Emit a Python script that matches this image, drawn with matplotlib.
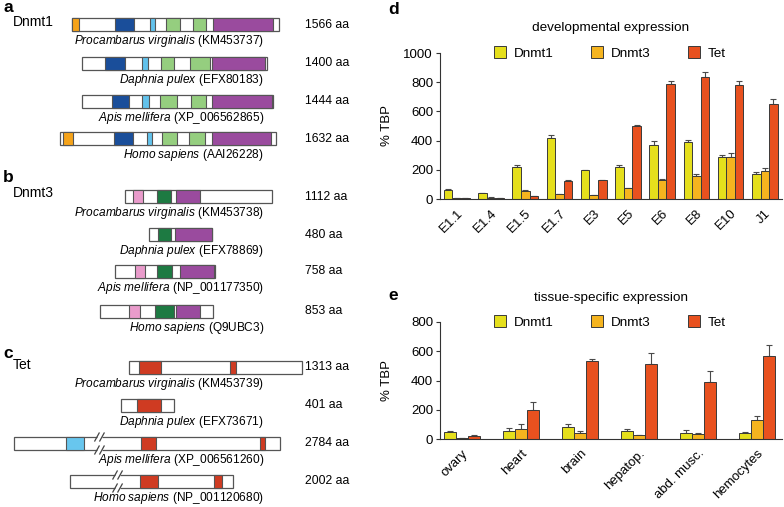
import numpy as np
import matplotlib.pyplot as plt
from matplotlib.patches import Rectangle

plt.rcParams['font.family'] = ['Liberation Sans', 'DejaVu Sans']
plt.rcParams['mathtext.fontset'] = 'custom'
plt.rcParams['mathtext.rm'] = 'Liberation Sans'
plt.rcParams['mathtext.it'] = 'Liberation Sans:italic'

# ---- domain architecture data (aa positions relative to protein start)
species = ['Procambarus virginalis', 'Daphnia pulex', 'Apis mellifera', 'Homo sapiens']
dnmt1_acc = ['KM453737', 'EFX80183', 'XP_006562865', 'AAI26228']
dnmt1_len = [1566, 1400, 1444, 1632]
dnmt1_dom = [
    [(0, 53, 'orange'), (326, 470, 'blue'), (590, 628, 'lblue'), (712, 818, 'lgreen'),
     (916, 1014, 'lgreen'), (1067, 1522, 'purple')],
    [(174, 326, 'blue'), (454, 500, 'lblue'), (598, 696, 'lgreen'), (818, 969, 'lgreen'),
     (984, 1385, 'purple')],
    [(227, 356, 'blue'), (454, 507, 'lblue'), (590, 719, 'lgreen'), (825, 939, 'lgreen'),
     (984, 1438, 'purple')],
    [(23, 98, 'orange'), (409, 553, 'blue'), (659, 696, 'lblue'), (772, 886, 'lgreen'),
     (977, 1098, 'lgreen'), (1151, 1597, 'purple')],
]
dnmt3_acc = ['KM453738', 'EFX78869', 'NP_001177350', 'Q9UBC3']
dnmt3_len = [1112, 480, 758, 853]
dnmt3_dom = [
    [(61, 136, 'pink'), (242, 348, 'dgreen'), (386, 568, 'purple')],
    [(68, 167, 'dgreen'), (197, 477, 'purple')],
    [(151, 227, 'pink'), (318, 431, 'dgreen'), (492, 749, 'purple')],
    [(220, 303, 'pink'), (416, 560, 'dgreen'), (575, 757, 'purple')],
]
tet_acc = ['KM453739', 'EFX73671', 'XP_006561260', 'NP_001120680']
tet_len = [1313, 401, 2784, 2002]
tet_drawn = [1313, 401, 2014, 1234]       # drawn length after the scale break
tet_break = [None, None, 628, 341]
tet_dom = [
    [(76, 242, 'red'), (765, 810, 'red')],
    [(121, 303, 'red')],
    [(394, 530, 'lblue2'), (961, 1075, 'red'), (1862, 1900, 'red')],
    [(530, 666, 'red'), (1090, 1151, 'red')],
]

# ---- d: developmental expression (% TBP)
stages = ['E1.1', 'E1.4', 'E1.5', 'E1.7', 'E3', 'E5', 'E6', 'E8', 'E10', 'J1']
dev_dnmt1 = [62, 39, 217, 416, 199, 222, 371, 387, 288, 172]
dev_dnmt1_err = [8, 3, 15, 22, 3, 14, 23, 18, 14, 16]
dev_dnmt3 = [8, 10, 57, 34, 25, 73, 128, 160, 290, 190]
dev_dnmt3_err = [2, 2, 4, 3, 2, 4, 9, 9, 23, 21]
dev_tet = [4, 4, 20, 124, 128, 497, 790, 835, 783, 648]
dev_tet_err = [1, 1, 2, 4, 4, 11, 20, 32, 27, 37]

# ---- e: tissue-specific expression (% TBP)
tissues = ['ovary', 'heart', 'brain', 'hepatop.', 'abd. musc.', 'hemocytes']
tis_dnmt1 = [50, 55, 85, 53, 39, 43]
tis_dnmt1_err = [7, 18, 18, 16, 21, 7]
tis_dnmt3 = [6, 71, 43, 25, 32, 130]
tis_dnmt3_err = [2, 30, 14, 5, 7, 30]
tis_tet = [20, 199, 530, 512, 393, 567]
tis_tet_err = [5, 57, 16, 73, 69, 78]

dom_colors = {'orange': '#F5A31A', 'blue': '#1A4E9A', 'lblue': '#62C2EC', 'lblue2': '#68C6EE',
              'lgreen': '#95CE7F', 'purple': '#9A4B9E', 'pink': '#E99BCB',
              'dgreen': '#1D7A42', 'red': '#CF3B22'}
bar_colors = ['#E5DF1C', '#F5B41F', '#E8511F']
genes = ['Dnmt1', 'Dnmt3', 'Tet']

W, H = 784, 507
fig = plt.figure(figsize=(W / 100, H / 100), dpi=100)

# ---------- left: domain diagrams (x in px, via aa scale)
AA_PER_PX = 7.57
axl = fig.add_axes([0, 0, 400 / W, 1])
axl.set_xlim(0, 400)
axl.set_ylim(H, 0)
axl.axis('off')

rows = [
    ('a', 'Dnmt1', 8, 22, dnmt1_acc, dnmt1_len, dnmt1_len, [None] * 4, dnmt1_dom,
     [72, 82, 82, 60], [18, 57, 95, 132]),
    ('b', 'Dnmt3', 178, 193, dnmt3_acc, dnmt3_len, dnmt3_len, [None] * 4, dnmt3_dom,
     [125, 149, 115, 100], [190, 228, 265, 305]),
    ('c', 'Tet', 353, 365, tet_acc, tet_len, tet_drawn, tet_break, tet_dom,
     [129, 121, 14, 70], [361, 399, 437, 475]),
]
bh = 13
edge = '#555555'
for letter, gene, ly, gy, accs, lens, drawn, brks, doms, x0s, tops in rows:
    axl.text(3, ly, letter, fontsize=12.5, fontweight='bold', va='center', ha='left')
    axl.text(13, gy, gene, fontsize=10, va='center', ha='left')
    for sp, acc, L, D, brk, dl, x0, top in zip(species, accs, lens, drawn, brks, doms, x0s, tops):
        axl.add_patch(Rectangle((x0, top), D / AA_PER_PX, bh, facecolor='white',
                                edgecolor=edge, linewidth=0.9, zorder=2))
        for s, e, c in dl:
            axl.add_patch(Rectangle((x0 + s / AA_PER_PX, top), (e - s) / AA_PER_PX, bh,
                                    facecolor=dom_colors[c], edgecolor=edge,
                                    linewidth=0.8, zorder=3))
        if brk is not None:
            bx = x0 + brk / AA_PER_PX
            for ey in (top, top + bh):
                axl.plot([bx, bx + 5], [ey, ey], color='white', lw=2.2, zorder=4,
                         solid_capstyle='butt')
                for dx in (0, 5):
                    axl.plot([bx + dx - 2.2, bx + dx + 2.2], [ey + 4, ey - 4],
                             color='#444444', lw=0.9, zorder=5)
        axl.text(305, top + bh / 2, f'{L} aa', fontsize=8.8, va='center', ha='left')
        sp_tex = sp.replace(' ', r'\ ')
        axl.text(264, top + 23, rf'$\it{{{sp_tex}}}$ ({acc})', fontsize=8.6,
                 va='center', ha='right')

fig.text(388 / W, 1 - 10 / H, 'd', fontsize=12.5, fontweight='bold', va='center')
fig.text(388 / W, 1 - 296 / H, 'e', fontsize=12.5, fontweight='bold', va='center')


def bar_panel(ax, cats, series, errs, width, ymax, step, title, title_off):
    x = np.arange(len(cats))
    for i, (vals, err) in enumerate(zip(series, errs)):
        ax.bar(x + (i - 1) * width, vals, width, color=bar_colors[i], edgecolor='#3a3a3a',
               linewidth=0.7, label=genes[i], zorder=2,
               yerr=[np.zeros(len(vals)), err],
               error_kw=dict(ecolor='#4a4a4a', elinewidth=0.8, capsize=2.2, capthick=0.8, zorder=1))
    ax.set_ylim(0, ymax)
    ax.set_yticks(np.arange(0, ymax + 1, step))
    ax.set_xticks(x)
    ax.set_xticklabels(cats, rotation=45, ha='right', va='top', rotation_mode='anchor',
                       fontsize=9.5)
    ax.tick_params(axis='x', length=0, pad=6)
    ax.tick_params(axis='y', length=3, width=0.8, labelsize=9.5, pad=2, color='#333333')
    for s in ('top', 'right'):
        ax.spines[s].set_visible(False)
    for s in ('left', 'bottom'):
        ax.spines[s].set_linewidth(0.8)
        ax.spines[s].set_color('#333333')
    ax.set_ylabel('% TBP', fontsize=9.5)
    ax.yaxis.set_label_coords(-0.137, 0.5)
    ax.text(0.5, 1 + title_off, title, transform=ax.transAxes, ha='center', va='center',
            fontsize=9.7)
    ax.legend(ncol=3, loc='center', bbox_to_anchor=(0.497, 1.0), frameon=False,
              fontsize=9.7, handlelength=0.9, handleheight=0.9, handletextpad=0.55,
              columnspacing=2.8, borderpad=0)


axd = fig.add_axes([440 / W, 1 - 199 / H, 342 / W, 146 / H])
bar_panel(axd, stages, [dev_dnmt1, dev_dnmt3, dev_tet],
          [dev_dnmt1_err, dev_dnmt3_err, dev_tet_err], 0.25, 1000, 200,
          'developmental expression', 25 / 146)
axd.set_xlim(-0.49, 9.5)

axe = fig.add_axes([440 / W, 1 - 439 / H, 342 / W, 117 / H])
bar_panel(axe, tissues, [tis_dnmt1, tis_dnmt3, tis_tet],
          [tis_dnmt1_err, tis_dnmt3_err, tis_tet_err], 0.2, 800, 200,
          'tissue-specific expression', 24 / 117)
axe.set_xlim(-0.37, 5.42)

fig.savefig('out.png', dpi=100)
